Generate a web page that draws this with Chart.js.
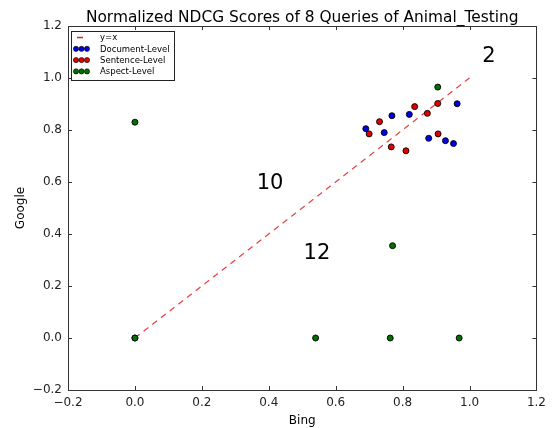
<!DOCTYPE html>
<html>
<head>
<meta charset="utf-8">
<script src="https://cdn.jsdelivr.net/npm/chart.js@4"></script>
<style>
  html, body { margin: 0; padding: 0; background: #fff; }
  #wrap { width: 552px; height: 428px; position: relative; }
</style>
</head>
<body>
<div id="wrap"><canvas id="chart"></canvas></div>
<script>
// scores
const docBing = [0.69, 0.745, 0.768, 0.82, 0.878, 0.928, 0.952, 0.963];
const docGoogle = [0.805, 0.79, 0.855, 0.86, 0.768, 0.759, 0.748, 0.901];
const sentBing = [0.70, 0.731, 0.766, 0.81, 0.836, 0.874, 0.905, 0.906];
const sentGoogle = [0.785, 0.832, 0.735, 0.72, 0.89, 0.864, 0.902, 0.785];
const aspBing = [0, 0, 0.54, 0.763, 0.77, 0.905, 0.969, 0];
const aspGoogle = [0.83, 0, 0, 0, 0.355, 0.965, 0, 0];
const lineX = [0, 1];
const noteText = ["2", "10", "12"];
const noteBing = [1.038, 0.364, 0.504];
const noteGoogle = [1.06, 0.573, 0.304];
const tickValues = [-0.2, 0, 0.2, 0.4, 0.6, 0.8, 1.0, 1.2];

const FONT = "'DejaVu Sans', sans-serif";

function pts(xs, ys) {
    return xs.map((x, i) => ({ x: x, y: ys[i] }));
}
function fmt(v) {
    const s = Math.abs(v).toFixed(1);
    return v < -1e-9 ? "\u2212" + s : s;
}

const scatterStyle = (color, label, order) => ({
    type: 'scatter',
    label: label,
    backgroundColor: color,
    borderColor: '#000',
    borderWidth: 0.9,
    pointRadius: 3,
    order: order
});

// box, inward ticks, title, notes and the matplotlib-like legend
const decor = {
    id: 'decor',
    afterDatasetsDraw(chart) {
        const ctx = chart.ctx;
        const a = chart.chartArea;
        const xs = chart.scales.x, ys = chart.scales.y;
        ctx.save();
        ctx.strokeStyle = '#333';
        ctx.lineWidth = 1;
        ctx.strokeRect(Math.round(a.left) + 0.5, Math.round(a.top) + 0.5,
            Math.round(a.right - a.left), Math.round(a.bottom - a.top));
        ctx.beginPath();
        tickValues.forEach(v => {
            const px = Math.round(xs.getPixelForValue(v)) + 0.5;
            ctx.moveTo(px, a.bottom); ctx.lineTo(px, a.bottom - 4);
            ctx.moveTo(px, a.top); ctx.lineTo(px, a.top + 4);
            const py = Math.round(ys.getPixelForValue(v)) + 0.5;
            ctx.moveTo(a.left, py); ctx.lineTo(a.left + 4, py);
            ctx.moveTo(a.right, py); ctx.lineTo(a.right - 4, py);
        });
        ctx.stroke();

        // title
        ctx.fillStyle = '#000';
        ctx.font = '15.4px ' + FONT;
        ctx.textAlign = 'center';
        ctx.textBaseline = 'alphabetic';
        ctx.fillText('Normalized NDCG Scores of 8 Queries of Animal_Testing', (a.left + a.right) / 2, 22);

        // query notes
        ctx.font = '21px ' + FONT;
        ctx.textAlign = 'left';
        noteText.forEach((t, i) => {
            ctx.fillText(t, xs.getPixelForValue(noteBing[i]), ys.getPixelForValue(noteGoogle[i]));
        });

        // legend
        const lx = 71, ly = 31, lw = 103, lh = 49;
        ctx.fillStyle = '#fff';
        ctx.fillRect(lx, ly, lw, lh);
        ctx.strokeStyle = '#222';
        ctx.strokeRect(lx + 0.5, ly + 0.5, lw, lh);
        ctx.font = '8.5px ' + FONT;
        ctx.textBaseline = 'middle';
        const rows = chart.data.datasets;
        rows.forEach((ds, i) => {
            const ry = 37.5 + i * 11.3;
            if (ds.type === 'line') {
                ctx.strokeStyle = '#e02020';
                ctx.lineWidth = 1.5;
                ctx.beginPath();
                ctx.moveTo(77, ry); ctx.lineTo(83, ry);
                ctx.stroke();
            } else {
                [76, 81.5, 87].forEach(cx => {
                    ctx.beginPath();
                    ctx.arc(cx, ry, 2.6, 0, Math.PI * 2);
                    ctx.fillStyle = ds.backgroundColor;
                    ctx.fill();
                    ctx.strokeStyle = '#000';
                    ctx.lineWidth = 0.6;
                    ctx.stroke();
                });
            }
            ctx.fillStyle = '#000';
            ctx.fillText(ds.label, 100, ry + 0.5);
        });
        ctx.restore();
    }
};

const axisTicks = {
    font: { family: FONT, size: 12 },
    color: '#222',
    callback: v => fmt(v)
};

new Chart(document.getElementById('chart'), {
    data: {
        datasets: [
            {
                type: 'line',
                label: 'y=x',
                data: pts(lineX, lineX),
                borderColor: 'rgba(225, 45, 45, 0.9)',
                borderWidth: 1.2,
                borderDash: [6, 5],
                pointRadius: 0,
                fill: false,
                order: 4
            },
            Object.assign(scatterStyle('#0000e0', 'Document-Level', 3), { data: pts(docBing, docGoogle) }),
            Object.assign(scatterStyle('#e00000', 'Sentence-Level', 2), { data: pts(sentBing, sentGoogle) }),
            Object.assign(scatterStyle('#007000', 'Aspect-Level', 1), { data: pts(aspBing, aspGoogle) })
        ]
    },
    options: {
        responsive: true,
        maintainAspectRatio: false,
        animation: false,
        layout: { padding: { top: 26, right: 12.5, left: 0, bottom: 0 } },
        plugins: {
            legend: { display: false },
            title: { display: false },
            tooltip: { enabled: false }
        },
        scales: {
            x: {
                type: 'linear',
                min: -0.2,
                max: 1.2,
                grid: { display: false, drawTicks: false },
                border: { display: false },
                ticks: Object.assign({ stepSize: 0.2, padding: 6 }, axisTicks),
                title: { display: true, text: 'Bing', font: { family: FONT, size: 12 }, color: '#000', padding: { top: 0, bottom: 0 } },
                afterFit(scale) { scale.height = 38; }
            },
            y: {
                type: 'linear',
                min: -0.2,
                max: 1.2,
                grid: { display: false, drawTicks: false },
                border: { display: false },
                ticks: Object.assign({ stepSize: 0.2, padding: 6 }, axisTicks),
                title: { display: true, text: 'Google', font: { family: FONT, size: 12 }, color: '#000', padding: { top: 14, bottom: 0 } },
                afterFit(scale) { scale.width = 68; }
            }
        }
    },
    plugins: [decor]
});
</script>
</body>
</html>
